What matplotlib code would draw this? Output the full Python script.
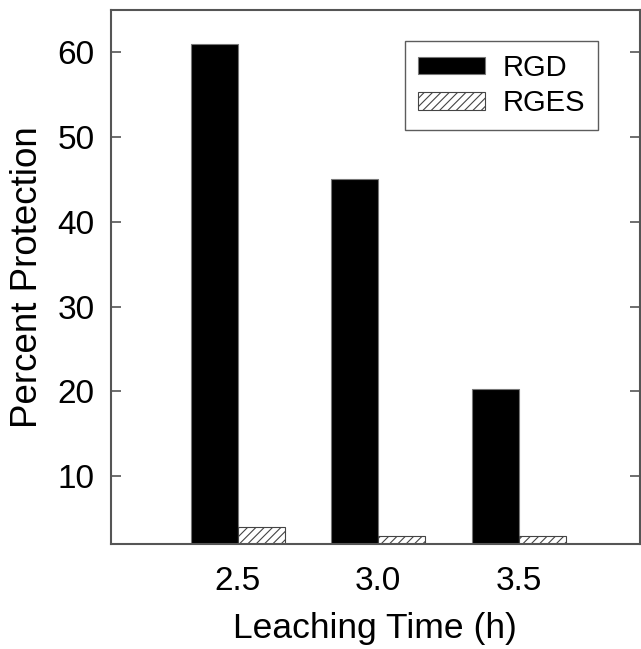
import matplotlib.pyplot as plt
import numpy as np

plt.rcParams['font.family'] = ['Liberation Sans', 'DejaVu Sans']
plt.rcParams['hatch.linewidth'] = 0.8
plt.rcParams['hatch.color'] = '#444444'

times = [2.5, 3.0, 3.5]
tick_labels = ['2.5', '3.0', '3.5']
rgd = [61.0, 45.0, 20.3]
rges = [4.0, 3.0, 3.0]

x = np.array(times)
w = 0.167

fig = plt.figure(figsize=(6.41, 6.49), dpi=100)
ax = fig.add_axes([0.1732, 0.1618, 0.825, 0.823])

ax.bar(x - w / 2, rgd, w, color='black', edgecolor='#777777', linewidth=0.8, label='RGD')
ax.bar(x + w / 2, rges, w, color='white', edgecolor='#444444', linewidth=0.8,
       hatch='////', label='RGES')

ax.set_xlim(2.05, 3.93)
ax.set_ylim(2, 65)
ax.set_yticks([10, 20, 30, 40, 50, 60])
ax.set_xticks(x)
ax.set_xticklabels(tick_labels)

for s in ax.spines.values():
    s.set_color('#555555')
    s.set_linewidth(1.5)

ax.tick_params(axis='y', direction='in', length=7, width=1.2, color='#555555',
               labelsize=24, pad=12, right=True)
ax.tick_params(axis='x', length=0, labelsize=24, pad=16)

ax.set_xlabel('Leaching Time (h)', fontsize=25.5, labelpad=11)
ax.set_ylabel('Percent Protection', fontsize=26.5, labelpad=9)

leg = ax.legend(loc='upper left', bbox_to_anchor=(0.555, 0.942), fontsize=21,
                frameon=True, fancybox=False, edgecolor='#333333',
                handlelength=2.3, handleheight=0.55, borderpad=0.45,
                labelspacing=0.25, handletextpad=0.6, borderaxespad=0)
leg.get_frame().set_linewidth(1.0)

fig.savefig('out.png', dpi=100)
